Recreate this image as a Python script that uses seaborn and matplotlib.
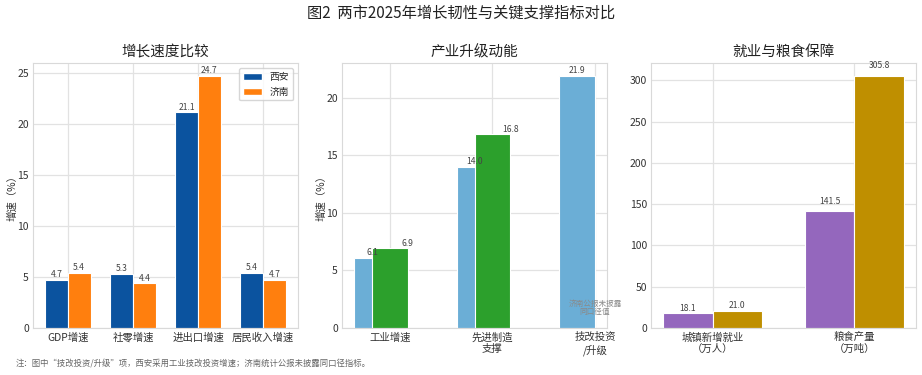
import numpy as np
import pandas as pd
import matplotlib
matplotlib.use("Agg")
import matplotlib.pyplot as plt
from matplotlib.patches import Patch
import seaborn as sns

# ---------------- data ----------------
cities = ["西安", "济南"]
growth_cats = ["GDP增速", "社零增速", "进出口增速", "居民收入增速"]
growth_xian = [4.7, 5.3, 21.1, 5.4]
growth_jinan = [5.4, 4.4, 24.7, 4.7]

industry_cats = ["工业增速", "先进制造\n支撑", "技改投资\n/升级"]
industry_xian = [6.1, 14.0, 21.9]
industry_jinan = [6.9, 16.8, np.nan]

secure_cats = ["城镇新增就业\n（万人）", "粮食产量\n（万吨）"]
secure_xian = [18.1, 141.5]
secure_jinan = [21.0, 305.8]

suptitle = "图2  两市2025年增长韧性与关键支撑指标对比"
titles = ["增长速度比较", "产业升级动能", "就业与粮食保障"]
ylabel = "增速（%）"
na_note = "济南公报未披露\n同口径值"
footnote = "注：图中“技改投资/升级”项，西安采用工业技改投资增速；济南统计公报未披露同口径指标。"

# ---------------- style ----------------
sns.set_theme(style="whitegrid")
plt.rcParams["font.family"] = ["Noto Sans CJK SC", "DejaVu Sans"]
plt.rcParams["axes.unicode_minus"] = False

C_XA1, C_JN1 = "#0b539f", "#ff7f0e"
C_XA2, C_JN2 = "#6baed6", "#2ca02c"
C_XA3, C_JN3 = "#9467bd", "#bf8f00"
LBL_COLOR = "#444444"
W, H = 922, 375
BW = 0.35

fig = plt.figure(figsize=(W / 100, H / 100), dpi=100)


def add_ax(l, r, t, b):
    return fig.add_axes([l / W, 1 - b / H, (r - l) / W, (b - t) / H])


ax1 = add_ax(33, 298, 63, 328)
ax2 = add_ax(342, 607, 63, 328)
ax3 = add_ax(651, 916, 63, 328)


def style_ax(ax, title):
    ax.set_title(title, fontsize=10.5, pad=5, color="#222222")
    ax.tick_params(axis="both", labelsize=7.5, pad=3, length=0, colors="#333333")
    ax.xaxis.grid(True)
    ax.yaxis.grid(True)
    ax.grid(color="#e2e2e2", linewidth=0.9)
    ax.set_axisbelow(True)
    ax.set_xlabel("")
    for s in ax.spines.values():
        s.set_color("#d9d9d9")
        s.set_linewidth(0.8)


def cat_xlim(ax, n):
    m = 0.05 * (n - 1 + 2 * BW)
    ax.set_xlim(-BW - m, n - 1 + BW + m)


VFS = 6.2

# ---------------- panel 1 ----------------
df1 = pd.DataFrame({
    "指标": growth_cats * 2,
    "城市": [cities[0]] * len(growth_cats) + [cities[1]] * len(growth_cats),
    "值": growth_xian + growth_jinan,
})
sns.barplot(data=df1, x="指标", y="值", hue="城市", order=growth_cats, hue_order=cities,
            palette=[C_XA1, C_JN1], width=2 * BW, saturation=1, errorbar=None,
            edgecolor="white", linewidth=0.8, legend=False, ax=ax1)
style_ax(ax1, titles[0])
cat_xlim(ax1, len(growth_cats))
ax1.set_ylim(0, max(growth_xian + growth_jinan) * 1.05)
ax1.set_ylabel(ylabel, fontsize=7.5, color="#333333")
ax1.yaxis.set_label_coords(-0.06, 0.5)
for i, (a, b) in enumerate(zip(growth_xian, growth_jinan)):
    ax1.text(i - BW / 2, a + 0.05, f"{a:.1f}", ha="center", va="bottom", fontsize=VFS, color=LBL_COLOR)
    ax1.text(i + BW / 2, b + 0.05, f"{b:.1f}", ha="center", va="bottom", fontsize=VFS, color=LBL_COLOR)
ax1.legend(handles=[Patch(facecolor=C_XA1, edgecolor="white", label=cities[0]),
                    Patch(facecolor=C_JN1, edgecolor="white", label=cities[1])],
           loc="upper right", fontsize=7, frameon=True, borderaxespad=0.5)

# ---------------- panel 2 ----------------
x2 = np.arange(len(industry_cats))
ax2.bar(x2 - BW / 2, industry_xian, BW, color=C_XA2, edgecolor="white", linewidth=0.8)
ax2.bar(x2, industry_jinan, BW, color=C_JN2, edgecolor="white", linewidth=0.8)
style_ax(ax2, titles[1])
ax2.set_xticks(x2)
ax2.set_xticklabels(industry_cats)
m2 = 0.05 * (len(industry_cats) - 1 + BW)
ax2.set_xlim(-BW - m2, len(industry_cats) - 1 + m2)
ax2.set_ylim(0, np.nanmax(industry_xian + industry_jinan) * 1.05)
ax2.set_ylabel(ylabel, fontsize=7.5, color="#333333")
ax2.yaxis.set_label_coords(-0.06, 0.5)
for i, (a, b) in enumerate(zip(industry_xian, industry_jinan)):
    ax2.text(i - BW / 2, a + 0.05, f"{a:.1f}", ha="center", va="bottom", fontsize=VFS, color=LBL_COLOR)
    if np.isnan(b):
        ax2.text(i, 1.0, na_note, ha="center", va="bottom", fontsize=5.5, color="#8a8a8a",
                 linespacing=1.15)
    else:
        ax2.text(i + BW / 2, b + 0.05, f"{b:.1f}", ha="center", va="bottom", fontsize=VFS, color=LBL_COLOR)

# ---------------- panel 3 ----------------
df3 = pd.DataFrame({
    "指标": secure_cats * 2,
    "城市": [cities[0]] * len(secure_cats) + [cities[1]] * len(secure_cats),
    "值": secure_xian + secure_jinan,
})
sns.barplot(data=df3, x="指标", y="值", hue="城市", order=secure_cats, hue_order=cities,
            palette=[C_XA3, C_JN3], width=2 * BW, saturation=1, errorbar=None,
            edgecolor="white", linewidth=0.8, legend=False, ax=ax3)
style_ax(ax3, titles[2])
cat_xlim(ax3, len(secure_cats))
ax3.set_ylim(0, max(secure_xian + secure_jinan) * 1.05)
ax3.set_ylabel("")
for i, (a, b) in enumerate(zip(secure_xian, secure_jinan)):
    off = 0.022 * max(a, b)
    ax3.text(i - BW / 2, a + off, f"{a:.1f}", ha="center", va="bottom", fontsize=VFS, color=LBL_COLOR)
    ax3.text(i + BW / 2, b + off, f"{b:.1f}", ha="center", va="bottom", fontsize=VFS, color=LBL_COLOR)

# ---------------- figure text ----------------
fig.text(0.5, 1 - 13 / H, suptitle, ha="center", va="center", fontsize=11, color="#222222")
fig.text(16 / W, 1 - 364 / H, footnote, ha="left", va="center", fontsize=6, color="#666666")

fig.savefig("out.png", dpi=100)
